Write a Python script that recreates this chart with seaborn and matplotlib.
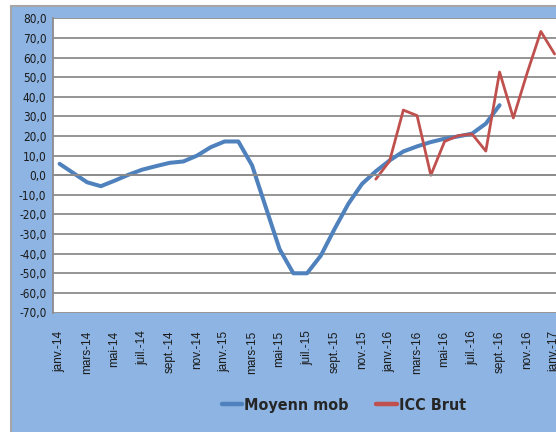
import numpy as np
import pandas as pd
import matplotlib
matplotlib.use("Agg")
import matplotlib.pyplot as plt
from matplotlib.patches import Rectangle
import seaborn as sns

# months janv.-14 .. janv.-17
mois = ["janv.", "févr.", "mars", "avr.", "mai", "juin",
        "juil.", "août", "sept.", "oct.", "nov.", "déc."]
months = [f"{m}-{y}" for y in ("14", "15", "16") for m in mois] + ["janv.-17"]

moyenne_mob = [5.8, 1.1, -3.6, -5.6, -2.8, 0.2, 2.8, 4.6, 6.3, 7.0, 10.0, 14.3,
               17.2, 17.2, 5.0, -16.4, -37.7, -50.0, -50.0, -41.0, -27.4, -14.6, -4.4, 2.0,
               7.5, 12.1, 14.7, 16.9, 18.6, 19.8, 21.2, 26.3, 35.7,
               np.nan, np.nan, np.nan, np.nan]
icc_brut = [np.nan] * 23 + [-2.0, 7.2, 33.2, 30.4, 0.0, 17.2, 20.2, 21.0,
                            12.3, 52.6, 29.2, 52.0, 73.3, 61.8]

df = pd.DataFrame({"idx": np.arange(len(months)), "Moyenn mob": moyenne_mob, "ICC Brut": icc_brut})

sns.set_style("white")
narrow = ['DejaVu Sans Condensed', 'Noto Sans Condensed', 'DejaVu Sans']
plt.rcParams['font.family'] = narrow
plt.rcParams['font.stretch'] = 'condensed'

W, H = 556, 432
fig = plt.figure(figsize=(W / 100, H / 100), dpi=100, facecolor="white")

# light blue chart area
fig.add_artist(Rectangle((10.5 / W, -0.01), 1.1, (H - 6) / H + 0.01, transform=fig.transFigure,
                         facecolor="#8DB4E2", edgecolor="#A6A6A6", lw=1.5, zorder=0))

left, right, top, bottom = 52.7, 556, 18.3, 312.5
ax = fig.add_axes([left / W, (H - bottom) / H, (right - left) / W, (bottom - top) / H])
ax.set_facecolor("white")

sns.lineplot(data=df, x="idx", y="Moyenn mob", ax=ax, color="#4F81BD", lw=2.9, label="Moyenn mob")
sns.lineplot(data=df, x="idx", y="ICC Brut", ax=ax, color="#C0504D", lw=2.0, label="ICC Brut")

ax.set_ylim(-70, 80)
ax.set_xlim(-0.5, -0.5 + (right - left) / 13.75)
grey = "#8C8C8C"
ax.set_yticks(np.arange(-70, 81, 10))
ax.set_yticklabels([f"{v:.1f}".replace(".", ",") for v in np.arange(-70, 81, 10)],
                   fontsize=8.5, color="#1A1A1A")
ax.yaxis.grid(True, color=grey, lw=1.3)
ax.set_axisbelow(True)
ax.tick_params(axis="y", length=3, width=1.2, color=grey, pad=1.5)

for s in ("top", "right"):
    ax.spines[s].set_visible(False)
ax.spines["left"].set_color(grey)
ax.spines["left"].set_linewidth(1.3)
ax.spines["bottom"].set_position(("data", 0))
ax.spines["bottom"].set_color(grey)
ax.spines["bottom"].set_linewidth(1.3)

# tick marks on the zero axis, between categories
ax.set_xticks(np.arange(-0.5, len(months), 2))
ax.set_xticklabels([])
ax.tick_params(axis="x", direction="out", length=4, width=1.2, color=grey)
ax.set_xlabel("")
ax.set_ylabel("")

# labels at the bottom
sec = ax.secondary_xaxis(0.0)
sec.set_xticks(df["idx"][::2], labels=months[::2])
sec.tick_params(length=0, pad=13)
for t in sec.get_xticklabels():
    t.set_rotation(90)
    t.set_fontfamily(["Liberation Sans", "DejaVu Sans"])
    t.set_fontstretch("normal")
    t.set_fontsize(8.5)
    t.set_color("#1A1A1A")
sec.spines["bottom"].set_visible(False)

handles, labels = ax.get_legend_handles_labels()
ax.get_legend().remove()
leg = fig.legend(handles, labels, loc="center", bbox_to_anchor=(0.618, 0.062), ncol=2,
                 frameon=False, handlelength=1.3, handletextpad=0.12, columnspacing=1.7,
                 prop=dict(family=narrow, weight="bold", stretch="condensed", size=11.5))
for line in leg.get_lines():
    line.set_linewidth(3.2)

fig.savefig("out.png", dpi=100, facecolor="white")
